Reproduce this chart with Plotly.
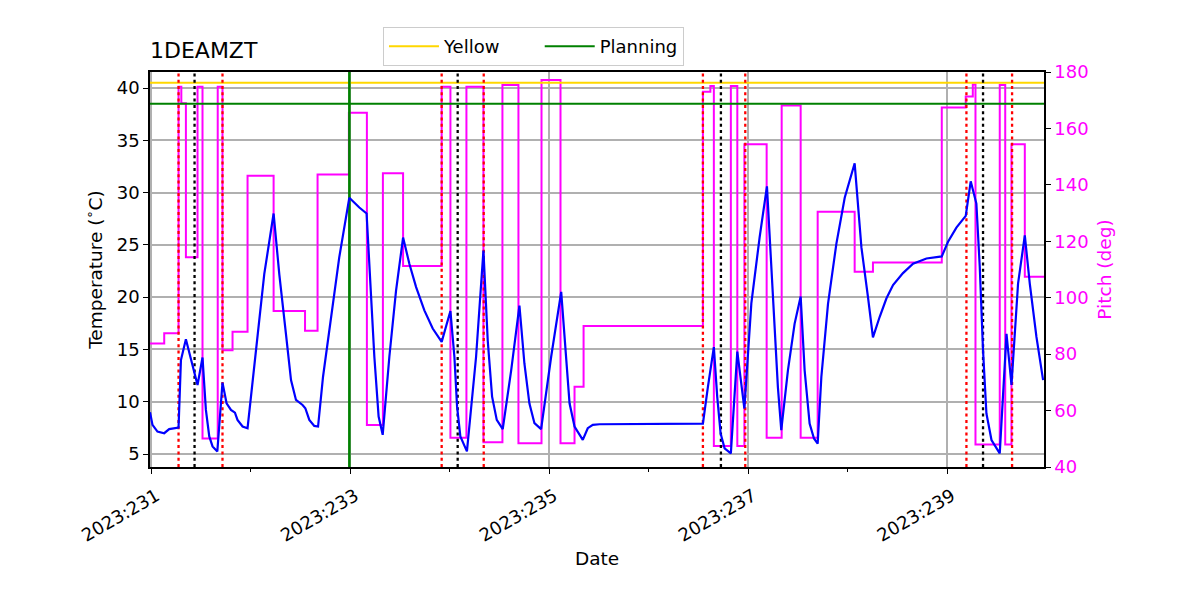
import plotly.graph_objects as go

# x values are day-of-year in 2023
day_ticks = [231, 233, 235, 237, 239]
day_labels = ["2023:231", "2023:233", "2023:235", "2023:237", "2023:239"]
minor_days = [232, 234, 236, 238]
x_range = [230.985, 239.975]

# 1DEAMZT temperature (deg C)
temp_day = [230.985, 231.010, 231.060, 231.128, 231.178, 231.272, 231.296, 231.346, 231.463, 231.513,
            231.547, 231.581, 231.614, 231.662, 231.714, 231.755, 231.799, 231.839, 231.865, 231.916,
            231.966, 232.016, 232.067, 232.134, 232.228, 232.285, 232.352, 232.403, 232.453, 232.519,
            232.547, 232.587, 232.637, 232.675, 232.725, 232.805, 232.888, 232.989, 233.090, 233.163,
            233.208, 233.241, 233.284, 233.325, 233.392, 233.459, 233.530, 233.593, 233.661, 233.744,
            233.828, 233.918, 234.006, 234.046, 234.073, 234.106, 234.172, 234.264, 234.338, 234.381,
            234.425, 234.472, 234.532, 234.617, 234.700, 234.750, 234.800, 234.851, 234.918, 235.019,
            235.120, 235.170, 235.204, 235.254, 235.337, 235.387, 235.438, 235.505, 236.000, 236.545,
            236.595, 236.655, 236.689, 236.723, 236.763, 236.826, 236.891, 236.962, 237.032, 237.115,
            237.189, 237.250, 237.299, 237.333, 237.400, 237.467, 237.528, 237.568, 237.618, 237.662,
            237.699, 237.736, 237.803, 237.887, 237.971, 238.071, 238.139, 238.205, 238.255, 238.322,
            238.390, 238.457, 238.557, 238.658, 238.793, 238.947, 239.010, 239.094, 239.188, 239.238,
            239.295, 239.329, 239.362, 239.396, 239.447, 239.530, 239.598, 239.648, 239.714, 239.782,
            239.832, 239.899, 239.966]
temp_val = [9.0, 7.79, 7.15, 6.99, 7.38, 7.53, 13.98, 15.98, 11.6, 14.23,
            9.22, 6.68, 5.73, 5.25, 11.83, 9.85, 9.22, 8.96, 8.26, 7.63,
            7.47, 11.76, 16.5, 22.2, 28.0, 22.2, 16.5, 12.07, 10.17, 9.69,
            9.38, 8.26, 7.69, 7.63, 12.39, 18.1, 23.8, 29.5, 28.57, 28.0,
            20.6, 14.3, 8.58, 6.84, 14.3, 20.6, 25.7, 23.2, 20.96, 18.74,
            17.0, 15.72, 18.67, 14.3, 9.53, 6.68, 5.25, 14.3, 24.45, 15.88,
            10.49, 8.26, 7.38, 13.0, 19.2, 13.66, 9.85, 7.95, 7.38, 14.3,
            20.5, 14.3, 9.85, 7.63, 6.36, 7.47, 7.79, 7.85, 7.9, 7.9,
            11.4, 15.23, 10.46, 6.97, 5.54, 5.06, 14.8, 9.35, 19.4, 25.7,
            30.6, 19.4, 11.4, 7.28, 13.0, 17.45, 20.06, 13.0, 7.92, 6.49,
            6.0, 12.37, 19.35, 25.1, 29.5, 32.8, 24.76, 20.0, 16.15, 18.1,
            19.87, 21.15, 22.3, 23.2, 23.7, 23.9, 25.3, 26.65, 27.77, 31.08,
            28.95, 22.9, 14.9, 8.88, 6.34, 5.06, 16.5, 11.6, 21.3, 25.9,
            21.3, 16.2, 12.07]

# pitch (deg), piecewise constant
pitch_day = [230.985, 231.128, 231.272, 231.30, 231.346, 231.463, 231.513, 231.666, 231.714, 231.815,
             231.966, 232.228, 232.544, 232.670, 232.985, 233.166, 233.327, 233.530, 233.918, 234.006,
             234.167, 234.338, 234.529, 234.690, 234.922, 235.113, 235.254, 235.345, 236.545, 236.62,
             236.655, 236.826, 236.891, 236.962, 237.186, 237.337, 237.528, 237.699, 238.071, 238.255,
             238.947, 239.188, 239.259, 239.286, 239.530, 239.585, 239.648, 239.782, 239.975]
pitch_val = [83.8, 87.4, 174.8, 168.9, 114.3, 174.8, 50.1, 174.8, 81.4, 87.9,
             143.2, 95.3, 88.3, 143.7, 165.6, 54.9, 144.1, 111.2, 174.8, 50.4,
             174.8, 48.8, 175.4, 48.4, 177.2, 48.4, 68.4, 90.0, 173.0, 175.0,
             47.4, 175.0, 47.4, 154.4, 50.4, 168.1, 50.4, 130.5, 109.2, 112.5,
             167.4, 171.3, 175.6, 48.0, 175.4, 48.0, 154.4, 107.4, 107.4]

yellow_limit = 40.5
planning_limit = 38.5
now_day = 232.99
red_days = [231.272, 231.714, 233.918, 234.341, 236.545, 236.971, 239.195, 239.654]
black_days = [231.433, 234.079, 236.726, 239.362]

temp_range = [3.76, 41.53]
pitch_range = [40, 180]

FONT = "DejaVu Sans"


def vlines(days):
    xs, ys = [], []
    for d in days:
        xs += [d, d, None]
        ys += [temp_range[0], temp_range[1], None]
    return xs, ys


fig = go.Figure()

# pitch on the base axis (right side) so temperature is drawn over it
fig.add_trace(go.Scatter(
    x=pitch_day, y=pitch_val, mode='lines', line_shape='hv',
    line=dict(color='#ff00ff', width=2), yaxis='y', showlegend=False
))

# the &nbsp; pad the first entry out to matplotlib's column spacing
fig.add_trace(go.Scatter(
    x=x_range, y=[yellow_limit, yellow_limit], mode='lines',
    name='Yellow&nbsp;&nbsp;&nbsp;&nbsp;&nbsp;&nbsp;',
    line=dict(color='#ffd700', width=2), yaxis='y2'
))
fig.add_trace(go.Scatter(
    x=x_range, y=[planning_limit, planning_limit], mode='lines', name='Planning',
    line=dict(color='#008000', width=2), yaxis='y2'
))

xs, ys = vlines(red_days)
fig.add_trace(go.Scatter(x=xs, y=ys, mode='lines', yaxis='y2', showlegend=False,
                         line=dict(color='#ff0000', width=2.3, dash='3px,3.3px')))
xs, ys = vlines(black_days)
fig.add_trace(go.Scatter(x=xs, y=ys, mode='lines', yaxis='y2', showlegend=False,
                         line=dict(color='#000000', width=2.3, dash='3px,3.3px')))
xs, ys = vlines([now_day])
fig.add_trace(go.Scatter(x=xs, y=ys, mode='lines', yaxis='y2', showlegend=False,
                         line=dict(color='#008000', width=2.6)))

fig.add_trace(go.Scatter(
    x=temp_day, y=temp_val, mode='lines', yaxis='y2', showlegend=False,
    line=dict(color='#0000ff', width=2.2)
))

# page body has an 8px margin, so the figure is offset by 8px
fig.update_layout(
    width=1200, height=600,
    margin=dict(l=142, r=164, t=64, b=141),
    paper_bgcolor='white', plot_bgcolor='white',
    font=dict(family=FONT, size=18, color='black'),
    title=dict(text='1DEAMZT', x=142 / 1200, xanchor='left', y=0.93, yanchor='middle',
               font=dict(family=FONT, size=22, color='black')),
    legend=dict(orientation='h', x=0.2606, xanchor='left', y=1.015, yanchor='bottom',
                bgcolor='white', bordercolor='#cccccc', borderwidth=1,
                font=dict(family=FONT, size=18), itemwidth=50),
    xaxis=dict(
        range=x_range, tickmode='array', tickvals=day_ticks, ticktext=day_labels,
        tickangle=-30, ticks='outside', ticklen=5, tickwidth=1.2, tickcolor='black',
        tickfont=dict(family=FONT, size=18), ticklabelshift=5, ticklabelstandoff=5,
        showgrid=True, gridcolor='#b0b0b0', gridwidth=1.5, zeroline=False,
        showline=True, linecolor='black', linewidth=1.5, mirror=True,
        minor=dict(tickvals=minor_days, ticks='outside', ticklen=3, tickwidth=1,
                   tickcolor='black', showgrid=False),
        title=dict(text='Date', standoff=7, font=dict(family=FONT, size=18.5)),
    ),
    yaxis=dict(
        side='right', range=pitch_range, tickmode='linear', tick0=40, dtick=20,
        ticks='outside', ticklen=5, tickwidth=1.2, tickcolor='black',
        tickfont=dict(color='#ff00ff', family=FONT, size=18),
        showgrid=False, zeroline=False,
        showline=True, linecolor='black', linewidth=1.5,
        title=dict(text='Pitch (deg)', standoff=10, font=dict(color='#ff00ff', family=FONT, size=18.5)),
    ),
    yaxis2=dict(
        side='left', overlaying='y', range=temp_range, tickmode='linear', tick0=5, dtick=5,
        ticks='outside', ticklen=5, tickwidth=1.2, tickcolor='black',
        tickfont=dict(family=FONT, size=18),
        showgrid=True, gridcolor='#b0b0b0', gridwidth=1.5, zeroline=False,
        showline=True, linecolor='black', linewidth=1.5,
        title=dict(text='Temperature (<sup>∘</sup>C)', standoff=9, font=dict(family=FONT, size=18.5)),
    ),
)

fig.write_html("out.html")
